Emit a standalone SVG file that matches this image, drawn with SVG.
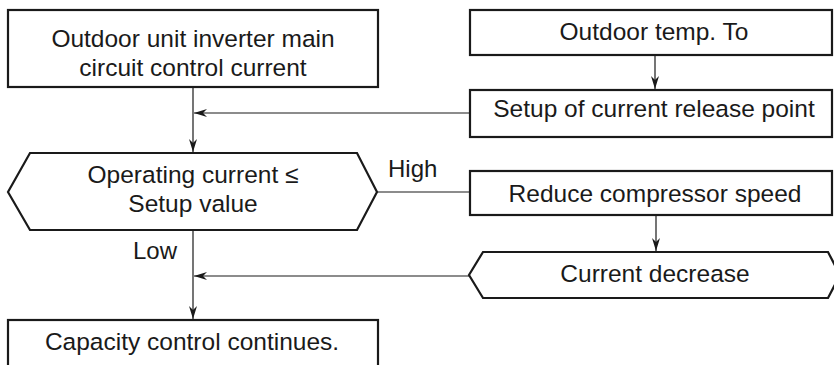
<svg xmlns="http://www.w3.org/2000/svg" width="834" height="365" viewBox="0 0 834 365">
<style>
.n{fill:#fff;stroke:#1a1a1a;stroke-width:2.2}
.t{font-family:"Liberation Sans",Arial,sans-serif;font-size:24.5px;fill:#1a1a1a;text-anchor:middle}
.l{font-family:"Liberation Sans",Arial,sans-serif;font-size:24px;fill:#1a1a1a}
.c{fill:none;stroke:#1a1a1a;stroke-width:1.2}
</style>
<defs>
<marker id="a" viewBox="0 0 13 8" refX="13" refY="4" markerWidth="13" markerHeight="8" markerUnits="userSpaceOnUse" orient="auto">
<path d="M0,0 L13,4 L0,8 L4,4 Z" fill="#1a1a1a"/>
</marker>
</defs>
<rect width="834" height="365" fill="#fff"/>
<g id="connectors">
<line class="c" x1="193" y1="88" x2="193" y2="152" marker-end="url(#a)"/>
<line class="c" x1="470" y1="113" x2="194" y2="113" marker-end="url(#a)"/>
<line class="c" x1="655" y1="56" x2="655" y2="89" marker-end="url(#a)"/>
<line class="c" x1="377" y1="192" x2="470" y2="192"/>
<line class="c" x1="656" y1="216" x2="656" y2="251" marker-end="url(#a)"/>
<line class="c" x1="469" y1="276" x2="194" y2="276" marker-end="url(#a)"/>
<line class="c" x1="193" y1="231" x2="193" y2="319" marker-end="url(#a)"/>
</g>
<g id="n1">
<rect class="n" x="8" y="10" width="370" height="77"/>
<text class="t" x="193" y="47">Outdoor unit inverter main</text>
<text class="t" x="193" y="76">circuit control current</text>
</g>
<g id="n2">
<rect class="n" x="470" y="10" width="362" height="45"/>
<text class="t" x="654" y="40">Outdoor temp. To</text>
</g>
<g id="n3">
<rect class="n" x="470" y="90" width="362" height="47"/>
<text class="t" x="654" y="117">Setup of current release point</text>
</g>
<g id="n4">
<polygon class="n" points="30,153 357,153 377,192 357,230 30,230 8,192"/>
<text class="t" x="193" y="183">Operating current ≤</text>
<text class="t" x="193" y="212">Setup value</text>
</g>
<g id="n5">
<rect class="n" x="470" y="171" width="362" height="44"/>
<text class="t" x="655" y="202">Reduce compressor speed</text>
</g>
<g id="n6">
<polygon class="n" points="483,252 828,252 840,275 828,298 483,298 469,275"/>
<text class="t" x="655" y="282">Current decrease</text>
</g>
<g id="n7">
<rect class="n" x="8" y="320" width="370" height="60"/>
<text class="t" x="192" y="350">Capacity control continues.</text>
</g>
<text class="l" x="388" y="177">High</text>
<text class="l" x="133" y="259">Low</text>
</svg>
